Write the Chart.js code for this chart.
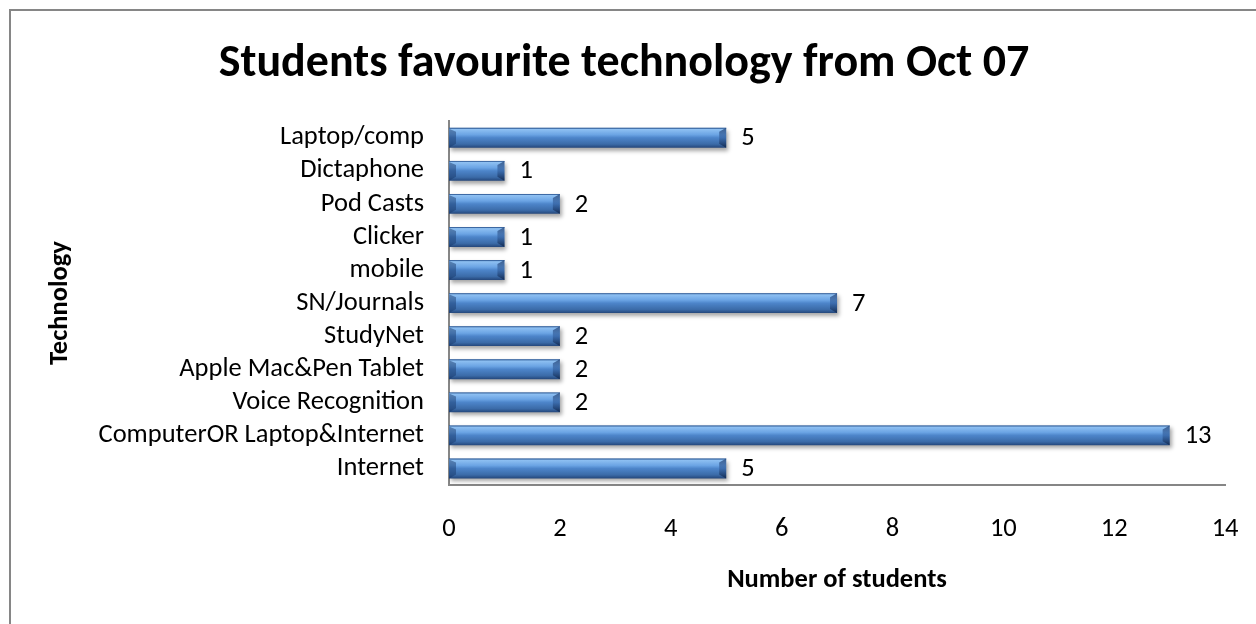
<!DOCTYPE html>
<html>
<head>
<meta charset="utf-8">
<title>Students favourite technology</title>
<script src="https://cdn.jsdelivr.net/npm/chart.js@4"></script>
<style>
  html, body { margin: 0; padding: 0; background: #fff; }
  #wrap { width: 1256px; height: 624px; position: relative; }
</style>
</head>
<body>
<div id="wrap"><canvas id="techChart"></canvas></div>
<script>
const technologies = [
    'Laptop/comp', 'Dictaphone', 'Pod Casts', 'Clicker', 'mobile', 'SN/Journals',
    'StudyNet', 'Apple Mac&Pen Tablet', 'Voice Recognition',
    'ComputerOR Laptop&Internet', 'Internet'
];
const studentCounts = [5, 1, 2, 1, 1, 7, 2, 2, 2, 13, 5];
const countTicks = [0, 2, 4, 6, 8, 10, 12, 14];

const FONT = "Calibri, Carlito, Lato, 'Noto Sans', sans-serif";
const AXIS_GREY = '#868686';
const LABEL_SIZE = 26.5;
const BAR_HALF = 10;

// glossy blue fill, built per bar around its centre line
function barGradient(context) {
    const chart = context.chart;
    const yScale = chart.scales.y;
    if (!yScale || !chart.ctx) return '#4f81bd';
    const yc = yScale.getPixelForValue(context.dataIndex);
    if (!isFinite(yc)) return '#4f81bd';
    const g = chart.ctx.createLinearGradient(0, yc - BAR_HALF, 0, yc + BAR_HALF);
    g.addColorStop(0, '#3d6faa');
    g.addColorStop(0.08, '#8ec0f2');
    g.addColorStop(0.35, '#6ba4e4');
    g.addColorStop(0.5, '#4d85ca');
    g.addColorStop(0.82, '#3b6ba8');
    g.addColorStop(1, '#24467a');
    return g;
}

// top and left frame of the chart box
const framePlugin = {
    id: 'frame',
    beforeDraw(chart) {
        const ctx = chart.ctx;
        ctx.save();
        ctx.strokeStyle = AXIS_GREY;
        ctx.lineWidth = 2;
        ctx.beginPath();
        ctx.moveTo(chart.width, 10);
        ctx.lineTo(10, 10);
        ctx.lineTo(10, chart.height);
        ctx.stroke();
        ctx.restore();
    }
};

// soft drop shadow under bars, bevelled ends on top
const bevelPlugin = {
    id: 'bevel',
    beforeDatasetsDraw(chart) {
        const ctx = chart.ctx;
        ctx.save();
        ctx.shadowColor = 'rgba(0,0,0,0.35)';
        ctx.shadowBlur = 4;
        ctx.shadowOffsetX = 2;
        ctx.shadowOffsetY = 3;
    },
    afterDatasetsDraw(chart) {
        const ctx = chart.ctx;
        ctx.restore();
        const meta = chart.getDatasetMeta(0);
        ctx.save();
        meta.data.forEach(bar => {
            const top = bar.y - bar.height / 2;
            const bottom = bar.y + bar.height / 2;
            const right = bar.x;
            const left = bar.base;
            if (![top, bottom, right, left].every(isFinite)) return;
            const d = 7;
            // right end face
            const rg = ctx.createLinearGradient(0, top, 0, bottom);
            rg.addColorStop(0, 'rgba(30,60,110,0.75)');
            rg.addColorStop(0.5, 'rgba(40,80,140,0.45)');
            rg.addColorStop(1, 'rgba(15,35,70,0.8)');
            ctx.fillStyle = rg;
            ctx.beginPath();
            ctx.moveTo(right - d, top + 4);
            ctx.lineTo(right, top);
            ctx.lineTo(right, bottom);
            ctx.lineTo(right - d, bottom - 4);
            ctx.closePath();
            ctx.fill();
            // left end face
            ctx.fillStyle = 'rgba(20,50,100,0.45)';
            ctx.beginPath();
            ctx.moveTo(left, top + 1);
            ctx.lineTo(left + d, top + 4);
            ctx.lineTo(left + d, bottom - 4);
            ctx.lineTo(left, bottom);
            ctx.closePath();
            ctx.fill();
            // thin darker rim along the top edge
            ctx.fillStyle = 'rgba(40,80,140,0.6)';
            ctx.fillRect(left, top, right - left, 1);
        });
        ctx.restore();
    }
};

// value written just past the end of each bar
const valueLabelPlugin = {
    id: 'valueLabels',
    afterDatasetsDraw(chart) {
        const ctx = chart.ctx;
        const meta = chart.getDatasetMeta(0);
        const data = chart.data.datasets[0].data;
        ctx.save();
        ctx.font = LABEL_SIZE + 'px ' + FONT;
        ctx.fillStyle = '#000';
        ctx.textAlign = 'left';
        ctx.textBaseline = 'middle';
        meta.data.forEach((bar, i) => {
            ctx.fillText(String(data[i]), bar.x + 15, bar.y + 1);
        });
        ctx.restore();
    }
};

const ctx = document.getElementById('techChart').getContext('2d');
new Chart(ctx, {
    type: 'bar',
    data: {
        labels: technologies,
        datasets: [{
            label: 'Number of students',
            data: studentCounts,
            backgroundColor: barGradient,
            borderWidth: 0,
            barPercentage: 0.6,
            categoryPercentage: 1.0
        }]
    },
    options: {
        indexAxis: 'y',
        responsive: true,
        maintainAspectRatio: false,
        animation: false,
        devicePixelRatio: 1,
        layout: { padding: { top: 10, left: 10, right: 18, bottom: 0 } },
        plugins: {
            legend: { display: false },
            tooltip: { enabled: false },
            title: {
                display: true,
                text: 'Students favourite technology from Oct 07',
                color: '#000',
                font: { family: FONT, size: 46, weight: 'bold', lineHeight: 1.2 },
                padding: { top: 27, bottom: 29 }
            }
        },
        scales: {
            x: {
                min: 0,
                max: 14,
                afterBuildTicks(scale) {
                    scale.ticks = countTicks.map(v => ({ value: v }));
                },
                afterFit(scale) { scale.height = 139; },
                // tick marks hidden, tickLength only spaces the labels below the axis
                grid: { display: false, drawTicks: true, tickLength: 10.5 },
                border: { display: true, color: AXIS_GREY, width: 2 },
                ticks: {
                    color: '#000',
                    padding: 17.5,
                    font: { family: FONT, size: LABEL_SIZE, lineHeight: 1.2 }
                },
                title: {
                    display: true,
                    text: 'Number of students',
                    color: '#000',
                    font: { family: FONT, size: LABEL_SIZE, weight: 'bold', lineHeight: 1.2 },
                    padding: { top: 0, bottom: 28 }
                }
            },
            y: {
                afterFit(scale) { scale.width = 439; },
                grid: { display: false, drawTicks: false },
                border: { display: true, color: AXIS_GREY, width: 2 },
                ticks: {
                    color: '#000',
                    padding: 25,
                    autoSkip: false,
                    font: { family: FONT, size: LABEL_SIZE, lineHeight: 1.2 }
                },
                title: {
                    display: true,
                    text: 'Technology',
                    color: '#000',
                    font: { family: FONT, size: LABEL_SIZE, weight: 'bold', lineHeight: 1.2 },
                    padding: { top: 34, bottom: 0 }
                }
            }
        }
    },
    plugins: [framePlugin, bevelPlugin, valueLabelPlugin]
});
</script>
</body>
</html>
